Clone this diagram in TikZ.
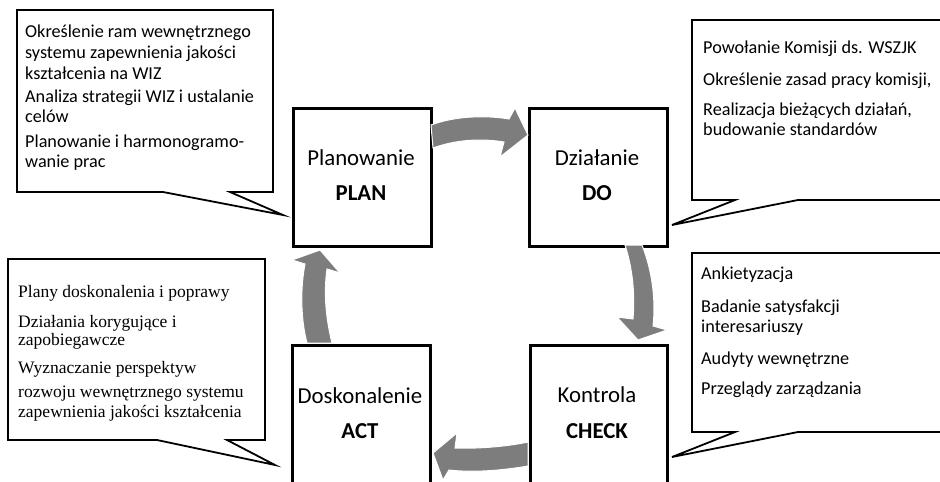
\documentclass[tikz,border=0pt]{standalone}
\usepackage{fontspec}
\setmainfont{Carlito}
\newfontfamily\calloutserif{Liberation Serif}
\definecolor{arrowgray}{RGB}{125,125,125}
\begin{document}
\begin{tikzpicture}[x=1pt,y=-1pt,
  pdcabox/.style={draw=black, line width=3pt, inner sep=0pt, anchor=north west},
  calloutline/.style={draw=black, line width=1.8pt, fill=white, line join=miter},
  blockarrow/.style={fill=arrowgray, draw=white, line width=1pt},
  lbl/.style={anchor=base, inner sep=0pt, font=\fontsize{22.8}{26}\selectfont},
  lblb/.style={anchor=base, inner sep=0pt, font=\fontsize{22.8}{26}\selectfont\bfseries},
  txt/.style={anchor=base west, inner sep=0pt, font=\fontsize{18.2}{20}\selectfont},
  txts/.style={anchor=base west, inner sep=0pt, font=\calloutserif\fontsize{17.5}{20}\selectfont}]
\clip (0,0) rectangle (940,482);
\useasboundingbox (0,0) rectangle (940,482);

% callouts
\draw[calloutline] (17,10) -- (273,10) -- (273,192) -- (230,192) -- (283,215) -- (163,192) -- (17,192) -- cycle;
\draw[calloutline] (692,20) -- (960,20) -- (960,200) -- (798,200) -- (672,225) -- (735,200) -- (692,200) -- cycle;
\draw[calloutline] (692,253) -- (960,253) -- (960,432) -- (798,432) -- (672,457) -- (735,432) -- (692,432) -- cycle;
\draw[calloutline] (8,259) -- (265,259) -- (265,440) -- (227,440) -- (275,465) -- (157,440) -- (8,440) -- cycle;

% boxes
\node[pdcabox, minimum width=138pt, minimum height=138pt] (plan) at (292,107) {};
\node[pdcabox, minimum width=138pt, minimum height=138pt] (do) at (528,107) {};
\node[pdcabox, minimum width=138pt, minimum height=160pt] (act) at (291,344) {};
\node[pdcabox, minimum width=137pt, minimum height=160pt] (check) at (529,344) {};

% box labels
\node[lbl] (plant) at (361,165) {Planowanie};
\node[lblb] (planb) at (361,200) {PLAN};
\node[lbl] (dot) at (597,165) {Działanie};
\node[lblb] (dob) at (597,200) {DO};
\node[lbl] (actt) at (360,403) {Doskonalenie};
\node[lblb] (actb) at (360,438) {ACT};
\node[lbl] (checkt) at (597,402) {Kontrola};
\node[lblb] (checkb) at (597,438) {CHECK};

% block arrows
\filldraw[blockarrow] (431,125) .. controls (455,116) and (485,115) .. (509,119) -- (515,108) -- (528,135) -- (500,157) -- (504,142) .. controls (480,138) and (455,140) .. (433,148) -- cycle;
\filldraw[blockarrow] (625,245) .. controls (633,270) and (635,295) .. (633,319) -- (617,317) -- (638,340) -- (667,330) -- (653,326) .. controls (656,300) and (652,270) .. (642,245) -- cycle;
\filldraw[blockarrow] (528,442) .. controls (510,446) and (480,449) .. (455,448) -- (457,433) -- (433,453) -- (443,480) -- (449,470) .. controls (475,473) and (505,470) .. (528,466) -- cycle;
\filldraw[blockarrow] (307,343) .. controls (301,320) and (300,290) .. (305,264) -- (292,260) -- (320,250) -- (340,273) -- (327,269) .. controls (324,290) and (325,315) .. (332,343) -- cycle;

% top-left callout text
\node[txt] (tl1) at (25,37.5) {Określenie ram wewnętrznego};
\node[txt] (tl2) at (25,58) {systemu zapewnienia jakości};
\node[txt] (tl3) at (25,79) {kształcenia na WIZ};
\node[txt] (tl4) at (25,102) {Analiza strategii WIZ i ustalanie};
\node[txt] (tl5) at (25,122) {celów};
\node[txt] (tl6) at (25,147) {Planowanie i harmonogramo-};
\node[txt] (tl7) at (25,167) {wanie prac};

% top-right callout text
\node[txt] (tr1) at (703,53) {Powołanie Komisji ds. WSZJK};
\node[txt] (tr2) at (703,85) {Określenie zasad pracy komisji,};
\node[txt] (tr3) at (703,115) {Realizacja bieżących działań,};
\node[txt] (tr4) at (703,135) {budowanie standardów};

% right callout text
\node[txt] (r1) at (701,279) {Ankietyzacja};
\node[txt] (r2) at (701,312) {Badanie satysfakcji};
\node[txt] (r3) at (701,332) {interesariuszy};
\node[txt] (r4) at (701,364) {Audyty wewnętrzne};
\node[txt] (r5) at (701,394) {Przeglądy zarządzania};

% bottom-left callout text
\node[txts] (bl1) at (18,297) {Plany doskonalenia i poprawy};
\node[txts] (bl2) at (18,327) {Działania korygujące i};
\node[txts] (bl3) at (18,345) {zapobiegawcze};
\node[txts] (bl4) at (18,373) {Wyznaczanie perspektyw};
\node[txts] (bl5) at (18,397) {rozwoju wewnętrznego systemu};
\node[txts] (bl6) at (18,417) {zapewnienia jakości kształcenia};
\end{tikzpicture}
\end{document}
